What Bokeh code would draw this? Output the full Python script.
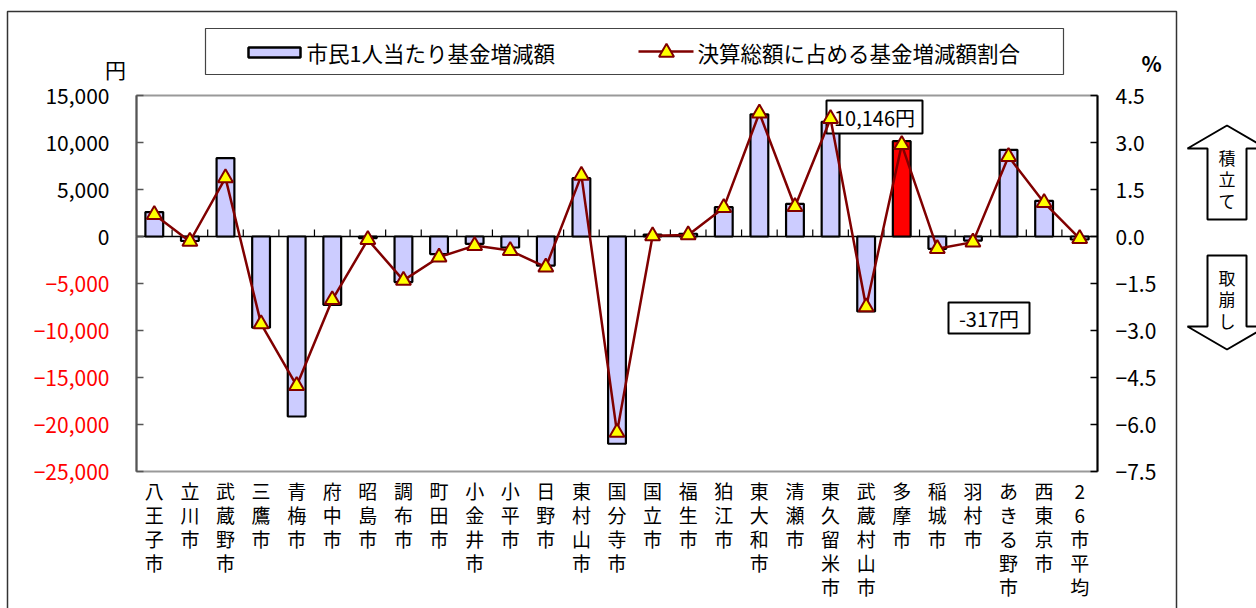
from bokeh.plotting import figure
from bokeh.models import (Range1d, LinearAxis, FixedTicker, CustomJSTickFormatter,
                          ColumnDataSource)
from bokeh.core.properties import value
from bokeh.embed import file_html
from bokeh.resources import INLINE

# --- data -------------------------------------------------------------
cities = ["八王子市", "立川市", "武蔵野市", "三鷹市", "青梅市", "府中市", "昭島市",
          "調布市", "町田市", "小金井市", "小平市", "日野市", "東村山市", "国分寺市",
          "国立市", "福生市", "狛江市", "東大和市", "清瀬市", "東久留米市", "武蔵村山市",
          "多摩市", "稲城市", "羽村市", "あきる野市", "西東京市", "26市平均"]

# 市民1人当たり基金増減額 (円)
yen_per_capita = [2600, -480, 8340, -9700, -19150, -7270, -170, -4850, -1870, -780,
                  -1170, -3090, 6210, -22050, 200, 290, 3130, 13000, 3480, 12200,
                  -7980, 10146, -1310, -430, 9220, 3800, -317]

# 決算総額に占める基金増減額割合 (%)
fund_share_pct = [0.70, -0.16, 1.87, -2.79, -4.76, -2.02, -0.10, -1.40, -0.66, -0.29,
                  -0.45, -0.98, 1.95, -6.25, 0.02, 0.05, 0.92, 3.94, 0.95, 3.76,
                  -2.25, 2.93, -0.39, -0.18, 2.55, 1.08, -0.07]

highlight_city = "多摩市"
average_city = "26市平均"

yen_ticks = [15000, 10000, 5000, 0, -5000, -10000, -15000, -20000, -25000]
yen_tick_labels = ["15,000", "10,000", "5,000", "0", "−5,000", "−10,000",
                   "−15,000", "−20,000", "−25,000"]
pct_ticks = [4.5, 3.0, 1.5, 0.0, -1.5, -3.0, -4.5, -6.0, -7.5]
pct_tick_labels = ["4.5", "3.0", "1.5", "0.0", "−1.5", "−3.0", "−4.5", "−6.0", "−7.5"]

bar_legend = "市民1人当たり基金増減額"
line_legend = "決算総額に占める基金増減額割合"
yen_unit = "円"
pct_unit = "%"
up_note = "積立て"
down_note = "取崩し"

# --- styling ----------------------------------------------------------
FONT = "Noto Sans CJK JP"
BAR_FILL = "#CCCCFF"
HIGHLIGHT_FILL = "#FF0000"
LINE_COLOR = "#800000"
MARKER_FILL = "#FFFF00"

W, H = 1256, 608
LEFT, RIGHT, TOP, BOTTOM = 136, 1097, 95, 471   # plot area in page pixels

# the frame covers the whole page; ranges are widened so that the value
# ranges land on the plot area
n = len(cities)
x0, x1 = -0.5, n - 0.5
y0, y1 = yen_ticks[-1], yen_ticks[0]
p0, p1 = pct_ticks[-1], pct_ticks[0]
kx = (x1 - x0) / (RIGHT - LEFT)
ky = (y1 - y0) / (BOTTOM - TOP)
kp = (p1 - p0) / (BOTTOM - TOP)

p = figure(width=W, height=H,
           x_range=Range1d(x0 - LEFT * kx, x1 + (W - RIGHT) * kx),
           y_range=Range1d(y0 - (H - BOTTOM) * ky, y1 + TOP * ky),
           output_backend="svg", toolbar_location=None,
           x_axis_location=None, y_axis_location=None, min_border=0,
           background_fill_color="white", border_fill_color="white")
p.grid.visible = False
p.outline_line_color = None
p.extra_y_ranges = {"pct": Range1d(p0 - (H - BOTTOM) * kp, p1 + TOP * kp),
                    "py": Range1d(H, 0)}
p.extra_x_ranges = {"px": Range1d(0, W)}

PX = dict(x_range_name="px", y_range_name="py")


def tick_formatter(values, texts):
    return CustomJSTickFormatter(args=dict(tick_values=values, tick_texts=texts), code="""
        const i = tick_values.indexOf(tick);
        return i >= 0 ? tick_texts[i] : '';
    """)


def axis(ticks, values, texts, color, line_color, standoff, **kw):
    return LinearAxis(ticker=FixedTicker(ticks=ticks),
                      formatter=tick_formatter(values, texts),
                      bounds=(min(ticks), max(ticks)),
                      major_tick_in=7, major_tick_out=0, minor_tick_line_color=None,
                      axis_line_color=line_color, axis_line_width=2,
                      major_tick_line_color=line_color, major_tick_line_width=1.5,
                      major_label_standoff=standoff,
                      major_label_text_color=color,
                      major_label_text_font=FONT, major_label_text_font_size="21px",
                      **kw)


# plot-area border (top / bottom show in grey)
p.quad(left=[x0], right=[x1], top=[y1], bottom=[y0], fill_color=None,
       line_color="#999999", line_width=2)

# yen axis: positive labels black, negative labels red
p.add_layout(axis([t for t in yen_ticks if t >= 0], yen_ticks, yen_tick_labels,
                  "black", "#555555", 27, fixed_location=x0), "left")
p.add_layout(axis([t for t in yen_ticks if t < 0] + [0], yen_ticks, yen_tick_labels,
                  "red", "#555555", 27, fixed_location=x0,
                  major_label_overrides={0: ""}), "left")
p.add_layout(axis(pct_ticks, pct_ticks, pct_tick_labels, "black", "black", 18,
                  y_range_name="pct", fixed_location=x1), "right")

p.text(x=[115], y=[68], text=[yen_unit], text_align="center", text_baseline="middle",
       text_font=value(FONT), text_font_size="21px", **PX)
p.text(x=[1151], y=[62], text=[pct_unit], text_align="center", text_baseline="middle",
       text_font=value(FONT), text_font_size="21px", text_font_style="bold", **PX)

# --- series -----------------------------------------------------------
idx = list(range(n))
src = ColumnDataSource(dict(
    x=idx, yen=yen_per_capita, pct=fund_share_pct,
    color=[HIGHLIGHT_FILL if c == highlight_city else BAR_FILL for c in cities]))

# zero line with small category ticks
p.segment(x0=[x0], x1=[x1], y0=[0], y1=[0], line_color="black", line_width=1.5)
bounds = [i + 0.5 for i in idx[:-1]]
p.segment(x0=bounds, x1=bounds, y0=[0] * len(bounds), y1=[7 * ky] * len(bounds),
          line_color="black", line_width=1.2)

p.vbar(x="x", top="yen", bottom=0, width=0.5, source=src,
       fill_color="color", line_color="black", line_width=2.2)

# callout boxes for 多摩市 and the 26-city average
hi = cities.index(highlight_city)
av = cities.index(average_city)
hi_text = f"{yen_per_capita[hi]:,}円"
av_text = f"{yen_per_capita[av]:,}円"
p.quad(left=[826, 948], right=[922, 1029], top=[100, 302], bottom=[133, 333],
       fill_color="white", line_color="black", line_width=2, **PX)

p.line(x="x", y="pct", source=src, y_range_name="pct",
       line_color=LINE_COLOR, line_width=2.5)
p.scatter(x="x", y="pct", source=src, y_range_name="pct", marker="triangle",
          size=15, fill_color=MARKER_FILL, line_color=LINE_COLOR, line_width=2)

p.text(x=[874, 988.5], y=[116.5, 317.5], text=[hi_text, av_text],
       text_align="center", text_baseline="middle",
       text_font=value(FONT), text_font_size="20px", **PX)

# --- category labels (stacked vertically, one character per line) -----
p.text(x=idx, y=[476] * n, text=["\n".join(c) for c in cities], y_range_name="py",
       text_align="center", text_baseline="top", text_font=value(FONT),
       text_font_size="19px", text_line_height=0.89)

# --- outer frame and legend --------------------------------------------
p.quad(left=[7], right=[1176], top=[11], bottom=[H + 40], fill_color=None,
       line_color="#333333", line_width=1.5, **PX)
p.quad(left=[205], right=[1063], top=[28], bottom=[74], fill_color="white",
       line_color="#444444", line_width=1.2, **PX)
p.quad(left=[248], right=[300], top=[47], bottom=[57], fill_color=BAR_FILL,
       line_color="black", line_width=2.5, **PX)
p.segment(x0=[638], x1=[693], y0=[51], y1=[51], line_color=LINE_COLOR,
          line_width=2.5, **PX)
p.scatter(x=[666], y=[52], marker="triangle", size=15, fill_color=MARKER_FILL,
          line_color=LINE_COLOR, line_width=2, **PX)
p.text(x=[306, 697], y=[52, 52], text=[bar_legend, line_legend],
       text_align="left", text_baseline="middle",
       text_font=value(FONT), text_font_size="21.5px", **PX)

# --- up / down arrows on the right ------------------------------------
arrow_style = dict(fill_color="white", line_color="black", line_width=2, **PX)
p.patch(x=[1226.5, 1266, 1246, 1246, 1207, 1207, 1187],
        y=[125, 148, 148, 219, 219, 148, 148], **arrow_style)
p.patch(x=[1207, 1246, 1246, 1266, 1226.5, 1187, 1207],
        y=[255, 255, 326, 326, 349, 326, 326], **arrow_style)
p.text(x=[1226.5, 1226.5], y=[144, 264], text=["\n".join(up_note), "\n".join(down_note)],
       text_align="center", text_baseline="top", text_font=value(FONT),
       text_font_size="17px", text_line_height=0.87, **PX)

open("out.html", "w").write(file_html(p, INLINE))
